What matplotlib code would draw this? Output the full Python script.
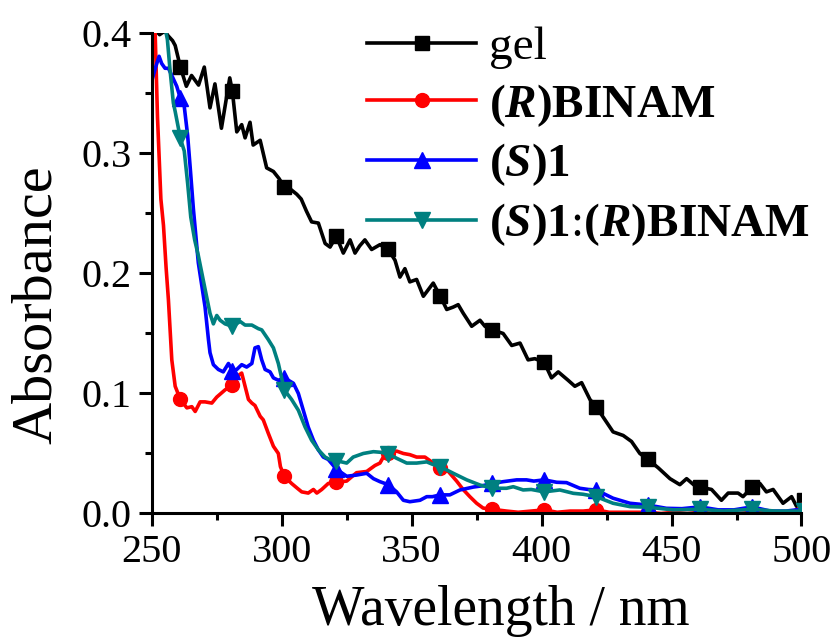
import numpy as np
import matplotlib
matplotlib.use("Agg")
import matplotlib.pyplot as plt
from matplotlib.ticker import MultipleLocator, FormatStrFormatter

plt.rcParams['font.family'] = ['Liberation Serif', 'DejaVu Serif']
plt.rcParams['mathtext.fontset'] = 'custom'
plt.rcParams['mathtext.rm'] = 'Liberation Serif'
plt.rcParams['mathtext.it'] = 'Liberation Serif:italic'
plt.rcParams['mathtext.bf'] = 'Liberation Serif:bold'
plt.rcParams['mathtext.bfit'] = 'Liberation Serif:bold:italic'

marker_wl = [261, 281, 301, 321, 341, 361, 381, 401, 421, 441, 461, 481, 501]

gel_wl = [251, 253, 255, 256.3, 258, 259, 261, 263.3, 265.3, 268, 270.2, 272.4, 274.3, 276.8,
          280, 281, 282.7, 284.6, 285.9, 287.8, 289, 291.7, 294.2, 296.8, 299, 301, 303.5,
          305.8, 307.5, 309.5, 311.5, 314.1, 316.7, 318.6, 321, 323.7, 326.3, 328.2, 330, 332,
          334.6, 337.8, 341, 343.6, 345.5, 347.4, 349.3, 351.9, 354.5, 358.3, 361, 363.5, 366,
          367.9, 369.8, 373.1, 376.3, 378.2, 381, 385.2, 388.5, 391.7, 394.8, 397.4, 401, 403.8,
          406.4, 410.2, 412.8, 415.4, 418.6, 421, 424.4, 427.5, 431.4, 434.6, 437.8, 441, 444.9,
          449.4, 453.2, 455.8, 458.5, 461, 465.4, 469.2, 471.8, 475.6, 477.5, 481, 484, 486.5,
          489.1, 492.9, 496.2, 498.1, 501]
gel_abs = [0.404, 0.399, 0.402, 0.398, 0.394, 0.390, 0.372, 0.356, 0.365, 0.357, 0.372, 0.338,
           0.358, 0.321, 0.363, 0.352, 0.318, 0.324, 0.313, 0.326, 0.307, 0.311, 0.288, 0.285,
           0.279, 0.272, 0.270, 0.266, 0.262, 0.252, 0.243, 0.242, 0.225, 0.222, 0.231, 0.217,
           0.228, 0.217, 0.223, 0.228, 0.220, 0.224, 0.220, 0.211, 0.197, 0.204, 0.193, 0.195,
           0.181, 0.192, 0.181, 0.170, 0.172, 0.174, 0.167, 0.156, 0.161, 0.156, 0.153, 0.150,
           0.140, 0.142, 0.128, 0.129, 0.126, 0.113, 0.118, 0.111, 0.106, 0.109, 0.095, 0.089,
           0.078, 0.068, 0.065, 0.060, 0.050, 0.045, 0.038, 0.029, 0.024, 0.029, 0.024, 0.022,
           0.020, 0.011, 0.017, 0.017, 0.014, 0.022, 0.025, 0.018, 0.020, 0.0085, 0.014, 0.006,
           0.011]

binam_wl = [250.3, 251.3, 252.2, 253.5, 254.5, 255.5, 256.4, 257.7, 259, 261, 263.5, 265.4,
            266.7, 268.6, 270.5, 273.1, 275, 278.2, 281, 283.3, 284.6, 285.9, 287.2, 288.5,
            289.7, 291.7, 292.9, 294.8, 296.8, 298.7, 299.5, 301, 303.8, 306, 307.7, 310.2,
            312.2, 313.5, 315.4, 317.9, 321, 325, 328.8, 332.7, 335.9, 337.8, 339.1, 341,
            344.2, 346.8, 349.3, 351.9, 355.1, 357.7, 361, 364.1, 367.3, 369.8, 372.4, 375,
            377.5, 381, 386.5, 391, 396, 401, 406, 411, 416, 421, 426, 431, 436, 441, 446, 451,
            456, 461, 466, 471, 476, 481, 486, 491, 496, 499, 501]
binam_abs = [0.42, 0.400, 0.330, 0.262, 0.240, 0.205, 0.178, 0.128, 0.106, 0.095, 0.088, 0.089,
             0.085, 0.093, 0.093, 0.092, 0.097, 0.103, 0.107, 0.115, 0.117, 0.106, 0.095, 0.092,
             0.090, 0.081, 0.078, 0.067, 0.056, 0.050, 0.039, 0.031, 0.025, 0.021, 0.018, 0.017,
             0.020, 0.017, 0.020, 0.025, 0.026, 0.027, 0.034, 0.035, 0.040, 0.042, 0.047, 0.050,
             0.052, 0.050, 0.049, 0.047, 0.047, 0.043, 0.038, 0.035, 0.027, 0.020, 0.014, 0.0085,
             0.0045, 0.0035, 0.002, 0.001, 0.002, 0.003, 0.001, 0.002, 0.002, 0.003, 0.001, 0.001,
             0.001, 0.001, 0.000, 0.001, 0.000, 0.001, 0.000, 0.001, 0.000, 0.001, 0.001, 0.000,
             0.001, 0.004, 0.004]

s1_wl = [250.2, 251.5, 252.8, 253.8, 255.1, 256.4, 257.7, 259.6, 261, 262.5, 263.8, 264.9, 266,
         267.9, 270.5, 271.8, 272.4, 273.7, 275.6, 277.5, 279.5, 281, 282.7, 284.6, 286.5, 288.5,
         289.7, 291, 292.3, 293.6, 295.5, 296.8, 298.7, 301, 304.5, 306.4, 308.3, 310.2, 312.2,
         314.1, 316, 317.9, 321, 325, 328.8, 332.7, 335.3, 337.8, 341, 344.2, 346.8, 349.3,
         353.2, 355.8, 358, 361, 364.7, 368.6, 373.7, 377, 381, 385.2, 390.4, 394.2, 397, 401,
         405.8, 409.6, 414.7, 418, 421, 427.5, 434, 441, 448, 454, 461, 468, 474, 481, 488, 494,
         498, 501]
s1_abs = [0.362, 0.372, 0.381, 0.375, 0.371, 0.371, 0.365, 0.356, 0.346, 0.339, 0.315, 0.285,
          0.254, 0.209, 0.172, 0.145, 0.134, 0.124, 0.120, 0.118, 0.125, 0.119, 0.120, 0.124,
          0.122, 0.125, 0.138, 0.139, 0.128, 0.120, 0.118, 0.113, 0.111, 0.113, 0.1085, 0.100,
          0.086, 0.072, 0.061, 0.053, 0.047, 0.045, 0.037, 0.031, 0.032, 0.0335, 0.029, 0.0265,
          0.024, 0.018, 0.011, 0.0098, 0.011, 0.014, 0.014, 0.0155, 0.0155, 0.0196, 0.022, 0.023,
          0.025, 0.0265, 0.028, 0.028, 0.027, 0.028, 0.026, 0.0257, 0.021, 0.020, 0.0196, 0.0127,
          0.0085, 0.007, 0.0043, 0.004, 0.0055, 0.003, 0.003, 0.0055, 0.002, 0.002, 0.003, 0.003]

mix_wl = [255.1, 256, 257, 258.3, 259, 261, 262.5, 263.8, 265, 266.5, 267.9, 270.5, 272.4, 273.7,
          275, 276.3, 278.2, 281, 284, 285.9, 288.5, 291, 292.3, 294.8, 296.8, 298.7, 301, 303.8,
          306.4, 309, 311.5, 314.1, 316.7, 318.5, 321, 325, 327.5, 331.4, 335.3, 338, 341, 344.2,
          348.1, 351.9, 355.8, 358, 361, 366, 371.2, 376.3, 381, 386.5, 389.1, 392.9, 396, 401,
          407, 412.2, 416, 421, 427.5, 434, 441, 450.6, 461, 470, 481, 490, 501]
mix_abs = [0.405, 0.395, 0.370, 0.342, 0.335, 0.3126, 0.302, 0.275, 0.247, 0.228, 0.215, 0.187,
           0.1668, 0.158, 0.165, 0.161, 0.158, 0.156, 0.160, 0.157, 0.157, 0.154, 0.153, 0.145,
           0.138, 0.125, 0.103, 0.095, 0.086, 0.072, 0.061, 0.053, 0.047, 0.045, 0.044, 0.042,
           0.047, 0.050, 0.0515, 0.051, 0.0496, 0.046, 0.042, 0.042, 0.043, 0.041, 0.039, 0.0335,
           0.028, 0.0237, 0.021, 0.021, 0.0223, 0.0196, 0.020, 0.018, 0.0196, 0.0168, 0.016,
           0.014, 0.0085, 0.0057, 0.0052, 0.003, 0.0035, 0.002, 0.0035, 0.002, 0.002]

labels = ['gel',
          r'$\mathbf{(}\mathbfit{R}\mathbf{)BINAM}$',
          r'$\mathbf{(}\mathbfit{S}\mathbf{)1}$',
          r'$\mathbf{(}\mathbfit{S}\mathbf{)1}$:$\mathbf{(}\mathbfit{R}\mathbf{)BINAM}$']
colors = ['#000000', '#ff0000', '#0000ff', '#008080']
markers = ['s', 'o', '^', 'v']
msizes = [9.5, 10, 11, 11]

fig = plt.figure(figsize=(8.34, 6.4), dpi=100)
ax = fig.add_axes([0.182, 0.1977, 0.779, 0.75])

series = [(gel_wl, gel_abs), (binam_wl, binam_abs), (s1_wl, s1_abs), (mix_wl, mix_abs)]
for (wl, ab), lab, c, m, ms in zip(series, labels, colors, markers, msizes):
    wl = np.asarray(wl)
    mask = np.isin(wl, marker_wl)
    ax.plot(wl, ab, color=c, lw=2.6, marker=m, ms=ms, markevery=list(mask),
            markeredgecolor=c, markerfacecolor=c, label=lab)

ax.set_xlim(250, 500)
ax.set_ylim(0.0, 0.4)
ax.xaxis.set_major_locator(MultipleLocator(50))
ax.xaxis.set_minor_locator(MultipleLocator(25))
ax.yaxis.set_major_locator(MultipleLocator(0.1))
ax.yaxis.set_minor_locator(MultipleLocator(0.05))
ax.yaxis.set_major_formatter(FormatStrFormatter('%.1f'))
ax.tick_params(which='major', direction='out', length=9.5, width=2.2, labelsize=29, pad=5)
ax.tick_params(which='minor', direction='out', length=5, width=2.2)
for s in ['top', 'right']:
    ax.spines[s].set_visible(False)
for s in ['left', 'bottom']:
    ax.spines[s].set_linewidth(2.2)

ax.set_xlabel('Wavelength / nm', fontsize=40)
ax.set_ylabel('Absorbance', fontsize=42)
ax.xaxis.set_label_coords(0.537, -0.148)
ax.yaxis.set_label_coords(-0.137, 0.434)

leg = ax.legend(loc='upper left', bbox_to_anchor=(0.332, 1.0154), frameon=False, fontsize=34,
                handlelength=2.3, handletextpad=0.28, labelspacing=0.27, borderpad=0,
                borderaxespad=0)

fig.savefig('out.png', dpi=100)
